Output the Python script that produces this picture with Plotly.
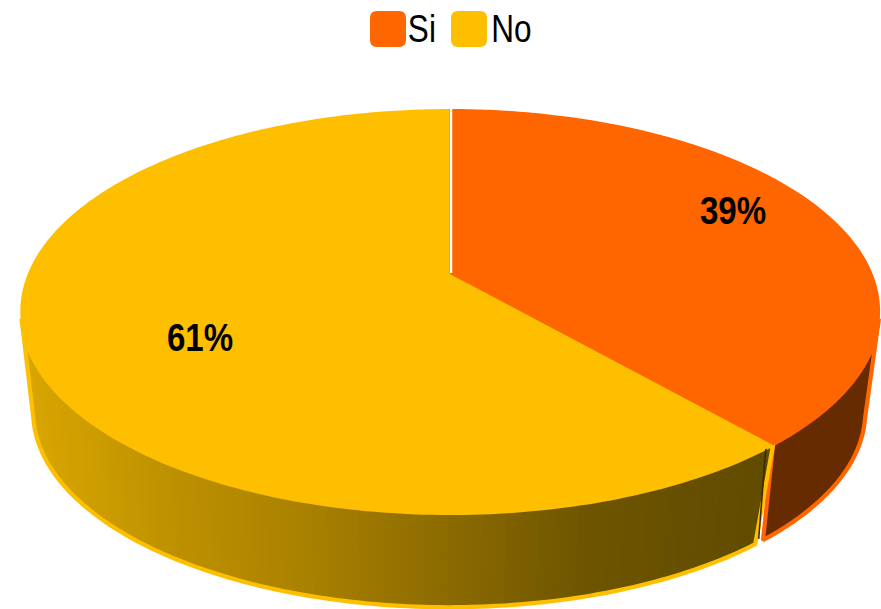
import numpy as np
import plotly.graph_objects as go

# data
labels = ["Si", "No"]
values = [38.6, 61.4]
face_colors = ["#FF6600", "#FDBF00"]

# styling / projection of the tilted pie (pixels of the 881x609 page)
W, H = 881, 609
CX, CY = 450.2, 273
A, B, K = 421.0, 194.1, 0.191
BOTTOM_SCALE, BOTTOM_DROP = 0.97, 101.5
ORANGE_WALL = "#662B00"
GRAD_X = [30, 100, 160, 300, 450, 590, 760]
GRAD_R = [217, 205, 192, 172, 140, 110, 97]
GRAD_G = [166, 157, 147, 131, 107, 85, 76]
RIGHT_EDGE, LEFT_EDGE = 103.0, 257.0


def top(deg, r=1.0):
    t = np.radians(deg)
    X, Y = r * np.sin(t), r * np.cos(t)
    w = 1 + K * Y
    return CX + A * X / w, CY - B * Y / w


def low(deg):
    x, y = top(deg)
    return CX + (x - CX) * BOTTOM_SCALE - 1, CY + (y - CY) * BOTTOM_SCALE + BOTTOM_DROP


def poly(fig, x, y, fill=None, line=None, width=0):
    fig.add_trace(go.Scatter(
        x=list(x), y=list(y), mode="lines", showlegend=False, hoverinfo="skip",
        fill="toself" if fill else "none", fillcolor=fill,
        line=dict(color=line or "rgba(0,0,0,0)", width=width, simplify=False),
    ))


def wall_color(x):
    return "rgb(%d,%d,0)" % (np.interp(x, GRAD_X, GRAD_R), np.interp(x, GRAD_X, GRAD_G))


fractions = np.array(values) / sum(values)
split = 360 * fractions[0]
fig = go.Figure()

# orange wall
a = np.linspace(RIGHT_EDGE, split, 80)
a_low = np.interp(a, [0, split - 8, split], [0, split - 8, split - 0.1])
tx, ty = top(a); bx, by = low(a_low)
poly(fig, np.r_[tx, bx[::-1], tx[0]], np.r_[ty, by[::-1], ty[0]],
     fill=ORANGE_WALL, line=face_colors[0], width=4.2)

# yellow wall (its lower corner sits a little past the split)
a = np.linspace(split, LEFT_EDGE, 130)
a_low = np.interp(a, [split, split + 8, 360], [split + 1.3, split + 8, 360])
for i in range(len(a) - 1, 0, -1):
    # painted from the far end, each strip overlaps the one before it, so no seams show
    j = min(i + 1, len(a) - 1)
    tx0, ty0 = top(a[i - 1]); tx1, ty1 = top(a[j])
    bx0, by0 = low(a_low[i - 1]); bx1, by1 = low(a_low[j])
    c = wall_color((tx0 + tx1 + bx0 + bx1) / 4)
    poly(fig, [tx0, tx1, bx1, bx0, tx0], [ty0, ty1, by1, by0, ty0], fill=c)
tx, ty = top(a); bx, by = low(a_low)
poly(fig, np.r_[tx, bx[::-1], tx[0]], np.r_[ty, by[::-1], ty[0]], line=face_colors[1], width=4.2)

# dark seam between the two walls
sx0, sy0 = top(split, 0.985)
sx1, sy1 = low(split + 0.5)
poly(fig, [sx0 - 1.5, sx1 - 1], [sy0 + 5, sy1 - 3], line="#3A2600", width=1.5)

# top faces
a = np.linspace(split, 360, 300)
x, y = top(a)
poly(fig, np.r_[CX, x, CX], np.r_[CY, y, CY], fill=face_colors[1], line=face_colors[1], width=2)
a = np.linspace(0, split, 200)
x, y = top(a)
poly(fig, np.r_[CX, x, CX], np.r_[CY, y, CY], fill=face_colors[0], line=face_colors[0], width=2)
x0, y0 = top(0, 1.03)
poly(fig, [CX + 0.8, x0 + 0.8], [CY, y0], line="white", width=2.5)

# percentage labels
FONT = "Liberation Sans"
label_pos = [(733, 211), (200, 338)]
annotations = []
for v, (lx, ly) in zip(fractions, label_pos):
    annotations.append(dict(x=lx, y=ly, xref="x", yref="y", showarrow=False,
                            text="<b>%d%%</b>" % round(v * 100),
                            font=dict(family=FONT, size=38, color="black")))

# legend
shapes = []
legend_x = [370, 451]
text_x = [422, 511]
for name, col, lx, tx_ in zip(labels, face_colors, legend_x, text_x):
    r, s, y0 = 7, 36, 11
    shapes.append(dict(type="path", xref="x", yref="y", fillcolor=col, line=dict(width=0),
                       path=f"M{lx+r},{y0} L{lx+s-r},{y0} Q{lx+s},{y0} {lx+s},{y0+r} L{lx+s},{y0+s-r} "
                            f"Q{lx+s},{y0+s} {lx+s-r},{y0+s} L{lx+r},{y0+s} Q{lx},{y0+s} {lx},{y0+s-r} "
                            f"L{lx},{y0+r} Q{lx},{y0} {lx+r},{y0} Z"))
    annotations.append(dict(x=tx_, y=29, xref="x", yref="y", showarrow=False,
                            text=name, font=dict(family=FONT, size=38, color="black")))

fig.update_layout(
    width=W, height=H, margin=dict(l=0, r=0, t=0, b=0),
    paper_bgcolor="white", plot_bgcolor="white", showlegend=False,
    xaxis=dict(range=[0, W], visible=False, fixedrange=True),
    yaxis=dict(range=[H, 0], visible=False, fixedrange=True),
    shapes=shapes, annotations=annotations,
)
css = ("body{margin:0;overflow:hidden}"
       ".annotation-text{transform-box:fill-box;transform-origin:center;transform:scaleX(.83)}"
       ".annotation[data-index='0'] .annotation-text,.annotation[data-index='1'] .annotation-text"
       "{transform:scaleX(.87)}")
fig.write_html("out.html", config={"displayModeBar": False}, post_script=
               "var s=document.createElement('style');s.textContent=%r;document.head.appendChild(s);" % css)
